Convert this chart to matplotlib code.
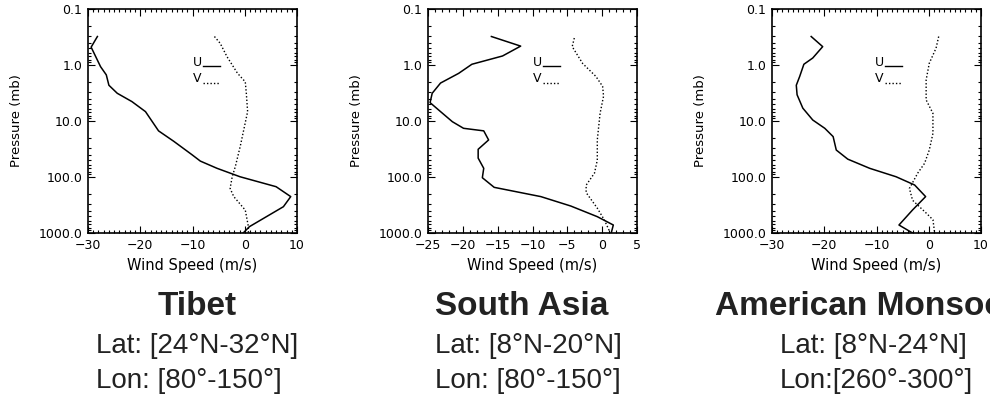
import matplotlib
matplotlib.use("Agg")
import matplotlib.pyplot as plt
from matplotlib.ticker import FixedLocator, FixedFormatter, LogLocator, MultipleLocator, NullFormatter

# Tibet
tibet_u_p = [0.31, 0.48, 1.07, 1.5, 2.3, 3.2, 4.5, 6.8, 15, 23, 40, 52, 70, 99, 149, 224, 339, 770, 1000]
tibet_u = [-28.2, -29.4, -27.6, -26.5, -26.0, -24.4, -21.6, -19.0, -16.5, -13.6, -10.1, -8.5, -5.3, -0.9, 6.0, 8.8, 7.4, 0.9, -0.3]
tibet_v_p = [0.31, 0.41, 0.71, 1.4, 2.0, 3.2, 6.8, 14.5, 28, 65, 99, 160, 224, 390, 770, 1000]
tibet_v = [-5.8, -4.7, -3.4, -1.4, 0.1, 0.3, 0.55, -0.2, -0.85, -1.8, -2.4, -2.8, -2.1, 0.1, 0.7, 0.7]

# South Asia
sa_u_p = [0.31, 0.46, 0.69, 0.97, 1.41, 2.1, 3.2, 4.7, 6.8, 10.3, 13.5, 15, 21.8, 32, 46, 70, 103, 153, 224, 330, 511, 720, 1000]
sa_u = [-15.9, -11.7, -14.3, -18.7, -20.6, -23.2, -24.4, -24.7, -23.2, -21.5, -19.9, -17.0, -16.3, -17.8, -17.8, -17.0, -17.2, -15.5, -8.8, -4.5, -0.7, 1.6, 1.3]
sa_v_p = [0.33, 0.47, 0.94, 1.6, 2.4, 3.6, 7.3, 21.8, 50, 85, 140, 190, 360, 580, 900]
sa_v = [-4.0, -4.3, -2.8, -0.9, 0.06, 0.2, -0.3, -0.7, -0.7, -1.1, -2.3, -2.3, -0.7, 0.3, 1.0]

# American Monsoon
am_u_p = [0.31, 0.47, 0.75, 0.97, 1.6, 2.3, 3.4, 5.9, 9.6, 13.5, 19, 33, 48, 70, 99, 139, 224, 388, 720, 1000]
am_u = [-22.5, -20.3, -22.2, -23.9, -24.7, -25.35, -25.2, -24.1, -22.2, -19.9, -18.3, -17.7, -15.5, -11.3, -6.25, -2.7, -0.6, -3.1, -5.7, -3.1]
am_v_p = [0.31, 0.5, 0.93, 1.85, 4.2, 7.3, 16.7, 33, 57, 85, 160, 260, 440, 580, 950]
am_v = [1.9, 1.4, 0.1, -0.5, -0.5, 0.8, 0.8, 0.1, -0.8, -2.1, -3.7, -3.1, -0.5, 0.8, 1.1]

titles = ["Tibet", "South Asia", "American Monsoon"]
lat_labels = ["Lat: [24°N-32°N]", "Lat: [8°N-20°N]", "Lat: [8°N-24°N]"]
lon_labels = ["Lon: [80°-150°]", "Lon: [80°-150°]", "Lon:[260°-300°]"]
xlims = [(-30, 10), (-25, 5), (-30, 10)]
xmajor = [10, 5, 10]
ptick_vals = [0.1, 1.0, 10.0, 100.0, 1000.0]
ptick_labels = ["0.1", "1.0", "10.0", "100.0", "1000.0"]

panels = [
    (tibet_u_p, tibet_u, tibet_v_p, tibet_v),
    (sa_u_p, sa_u, sa_v_p, sa_v),
    (am_u_p, am_u, am_v_p, am_v),
]

W, H = 990, 397
fig = plt.figure(figsize=(W / 100, H / 100), dpi=100)

ax_left = [88, 428, 772]
title_x = [158, 435, 715]
line_x = [96, 435, 780]
legend_x = [0.50, 0.50, 0.49]

for i, (up, u, vp, v) in enumerate(panels):
    ax = fig.add_axes([ax_left[i] / W, (H - 233) / H, 209 / W, 224 / H])
    ax.plot(u, up, color="black", lw=1.1)
    ax.plot(v, vp, color="black", lw=1.0, ls=(0, (1, 1.5)))
    ax.set_yscale("log")
    ax.set_ylim(1000, 0.1)
    ax.set_xlim(*xlims[i])
    ax.yaxis.set_major_locator(FixedLocator(ptick_vals))
    ax.yaxis.set_major_formatter(FixedFormatter(ptick_labels))
    ax.yaxis.set_minor_locator(LogLocator(base=10, subs=range(2, 10)))
    ax.yaxis.set_minor_formatter(NullFormatter())
    ax.xaxis.set_major_locator(MultipleLocator(xmajor[i]))
    ax.xaxis.set_minor_locator(MultipleLocator(1))
    ax.tick_params(which="both", direction="in", top=True, right=True,
                   labelsize=9, width=0.8)
    ax.tick_params(axis="x", pad=4)
    ax.tick_params(axis="y", pad=4)
    ax.tick_params(which="major", length=5)
    ax.tick_params(which="minor", length=2.5)
    for s in ax.spines.values():
        s.set_linewidth(1.2)
    ax.set_xlabel("Wind Speed (m/s)", fontsize=10.5, va="top")
    ax.xaxis.set_label_coords(0.5, -0.112)
    ax.set_ylabel("Pressure (mb)", fontsize=9.5, va="center")
    ax.yaxis.set_label_coords(-0.34, 0.5)

    # hand-made legend
    lx = legend_x[i]
    ax.text(lx, 0.763, "U", transform=ax.transAxes, fontsize=9, va="center", ha="left")
    ax.plot([lx + 0.05, lx + 0.13], [0.745, 0.745], transform=ax.transAxes, color="black", lw=1.0)
    ax.text(lx, 0.688, "V", transform=ax.transAxes, fontsize=9, va="center", ha="left")
    ax.plot([lx + 0.05, lx + 0.13], [0.668, 0.668], transform=ax.transAxes, color="black",
            lw=1.0, ls=(0, (1, 1.5)))

    fig.text(title_x[i] / W, (H - 315) / H, titles[i], fontsize=24, fontweight="bold",
             family="Liberation Sans", ha="left", va="baseline", color="#222222")
    fig.text(line_x[i] / W, (H - 353) / H, lat_labels[i], fontsize=20,
             family="Liberation Sans", ha="left", va="baseline", color="#222222")
    fig.text(line_x[i] / W, (H - 388) / H, lon_labels[i], fontsize=20,
             family="Liberation Sans", ha="left", va="baseline", color="#222222")

fig.savefig("out.png", dpi=100)
